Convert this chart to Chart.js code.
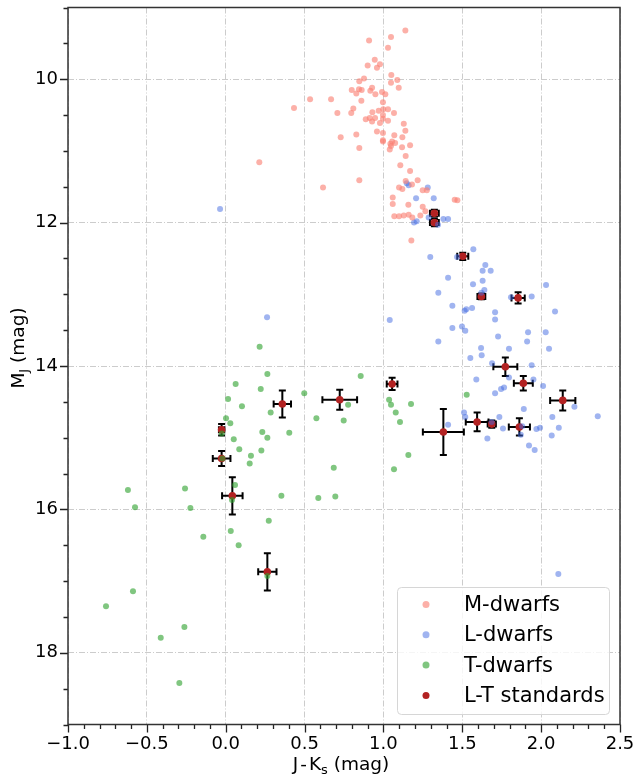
<!DOCTYPE html>
<html>
<head>
<meta charset="utf-8">
<script src="https://cdn.jsdelivr.net/npm/chart.js@4.4.0/dist/chart.umd.min.js"></script>
<style>
  html, body { margin: 0; padding: 0; background: #fff; }
</style>
</head>
<body>
<canvas id="cmd" width="634" height="779"></canvas>
<script>
// M-dwarfs (J-Ks, MJ)
const mX = [1.139, 1.048, 0.909, 1.029, 0.945, 0.978, 0.900, 0.959, 1.050, 0.877, 0.847, 1.088, 1.048, 0.928, 1.097,
  0.799, 0.845, 0.862, 0.828, 0.917, 0.991, 1.012, 0.949, 0.535, 0.668, 0.860, 0.997, 0.433, 0.809, 0.708, 0.796,
  0.930, 0.970, 0.999, 1.029, 1.067, 0.997, 0.913, 0.947, 0.888, 0.928, 0.978, 0.997, 1.029, 1.129, 1.139, 0.959,
  0.997, 0.828, 0.729, 1.069, 1.120, 0.997, 0.997, 1.055, 1.074, 1.044, 1.048, 1.169, 0.847, 1.118, 1.040, 1.141,
  0.213, 1.107, 1.169, 0.847, 0.617, 1.141, 1.217, 1.099, 1.120, 1.181, 1.249, 1.275, 1.059, 1.452, 1.469, 1.059,
  1.158, 1.249, 1.266, 1.069, 1.099, 1.129, 1.160, 1.183, 1.234, 1.177]
const mY = [9.32, 9.41, 9.46, 9.56, 9.73, 9.79, 9.81, 9.84, 9.94, 9.99, 10.03, 10.01, 10.05, 10.12, 10.12,
  10.15, 10.14, 10.15, 10.20, 10.16, 10.18, 10.21, 10.21, 10.28, 10.28, 10.30, 10.32, 10.40, 10.41, 10.47, 10.47,
  10.46, 10.44, 10.42, 10.42, 10.47, 10.50, 10.54, 10.54, 10.56, 10.59, 10.61, 10.55, 10.58, 10.62, 10.72, 10.73,
  10.75, 10.77, 10.81, 10.78, 10.81, 10.85, 10.87, 10.87, 10.89, 10.90, 10.93, 10.92, 10.96, 10.95, 10.98, 11.07,
  11.16, 11.20, 11.28, 11.41, 11.51, 11.42, 11.41, 11.51, 11.53, 11.47, 11.55, 11.55, 11.65, 11.68, 11.69, 11.74,
  11.75, 11.78, 11.84, 11.91, 11.91, 11.90, 11.89, 11.93, 11.90, 12.25]

// L-dwarfs
const lX = [-0.036, 1.148, 1.160, 1.281, 1.207, 1.319, 1.287, 1.194, 1.211, 1.346, 1.380, 1.410, 1.297, 1.467,
  1.570, 1.646, 1.629, 1.680, 1.410, 1.629, 1.568, 1.640, 1.621, 1.348, 2.031, 1.809, 1.940, 1.437, 1.562, 1.526,
  1.515, 1.708, 1.708, 2.088, 1.437, 1.498, 1.519, 1.348, 1.727, 1.917, 1.911, 2.029, 2.050, 1.619, 1.796, 1.623,
  1.551, 1.689, 1.940, 1.796, 1.951, 1.589, 2.012, 1.746, 1.765, 1.708, 2.211, 2.359, 1.890, 2.071, 2.112, 2.067,
  1.993, 1.970, 1.871, 1.880, 1.923, 1.959, 1.758, 1.735, 1.686, 1.659, 1.511, 1.519, 1.410, 0.262, 1.040, 2.109]
const lY = [11.81, 11.45, 11.48, 11.51, 11.66, 11.66, 11.93, 12.00, 11.98, 12.03, 11.95, 11.95, 12.48, 12.48,
  12.37, 12.59, 12.67, 12.67, 12.77, 12.81, 12.86, 12.94, 12.98, 12.98, 12.87, 13.04, 13.03, 13.16, 13.19, 13.21,
  13.23, 13.25, 13.35, 13.24, 13.47, 13.45, 13.51, 13.66, 13.59, 13.53, 13.66, 13.53, 13.76, 13.75, 13.76, 13.85,
  13.89, 13.96, 13.99, 14.16, 14.19, 14.19, 14.28, 14.32, 14.30, 14.38, 14.57, 14.70, 14.60, 14.71, 14.86, 14.97,
  14.86, 14.88, 14.96, 14.84, 15.11, 15.17, 14.87, 14.71, 14.78, 15.01, 14.65, 14.71, 14.82, 13.32, 13.36, 16.90]

// T-dwarfs
const tX = [0.215, 0.264, 0.063, 0.222, 0.498, 0.015, 0.103, 0.285, 0.002, 0.029, 0.232, 0.403, -0.025, 0.051,
  0.264, 0.086, 0.226, 0.160, 0.152, -0.021, 0.059, 0.040, -0.620, -0.258, -0.575, -0.224, 0.353, 0.273, 0.032,
  -0.142, 0.082, 0.264, -0.588, -0.759, -0.262, -0.412, -0.294, 0.856, 0.776, 1.036, 1.048, 1.175, 1.078, 1.105,
  0.575, 0.748, 1.158, 0.685, 1.067, 0.587, 0.695, 1.528]
const tY = [13.73, 14.11, 14.25, 14.32, 14.38, 14.46, 14.56, 14.65, 14.73, 14.80, 14.92, 14.93, 14.94, 15.02,
  15.00, 15.16, 15.18, 15.25, 15.36, 15.29, 15.66, 15.87, 15.73, 15.71, 15.97, 15.98, 15.81, 16.16, 16.30,
  16.38, 16.50, 16.93, 17.14, 17.35, 17.64, 17.79, 18.42, 14.14, 14.54, 14.47, 14.54, 14.53, 14.65, 14.78,
  14.73, 14.76, 15.24, 15.42, 15.44, 15.84, 15.82, 14.40]

// L-T standards with uncertainties
const sX = [1.323, 1.323, 1.503, 1.621, 1.854, 1.773, 1.887, 2.137, 1.380, 1.594, 1.687, 1.862, 1.055, 0.723,
  0.359, -0.026, -0.026, 0.042, 0.264]
const sY = [11.87, 12.00, 12.47, 13.03, 13.05, 14.01, 14.24, 14.48, 14.92, 14.78, 14.81, 14.85, 14.25, 14.47,
  14.53, 14.89, 15.29, 15.81, 16.87]
const sXErr = [0.028, 0.028, 0.035, 0.025, 0.042, 0.076, 0.06, 0.08, 0.13, 0.072, 0.026, 0.067, 0.034, 0.11,
  0.055, 0.017, 0.056, 0.065, 0.058]
const sYErr = [0.05, 0.05, 0.05, 0.04, 0.08, 0.13, 0.10, 0.14, 0.32, 0.13, 0.05, 0.12, 0.086, 0.14,
  0.19, 0.08, 0.105, 0.26, 0.26]

const seriesNames = ['M-dwarfs', 'L-dwarfs', 'T-dwarfs', 'L-T standards']
const seriesColors = ['rgba(250,128,114,0.62)', 'rgba(65,105,225,0.5)', 'rgba(44,160,44,0.6)', '#b22222']

const FONT = 'DejaVu Sans'

function toPoints(xs, ys){
    return xs.map((x, i) => ({x: x, y: ys[i]}))
}

function isMajor(v, step){
    return Math.abs(v / step - Math.round(v / step)) < 1e-6
}

// error bars for the standards, drawn under the red markers
const errorBars = {
    id: 'errorBars',
    beforeDatasetDraw(chart, args){
        if(args.index !== 3) return
        const ctx = chart.ctx
        const xs = chart.scales.x, ys = chart.scales.y
        const cap = 3.5
        ctx.save()
        ctx.strokeStyle = '#000'
        ctx.lineWidth = 2
        for(let i = 0; i < sX.length; i++){
            const px = xs.getPixelForValue(sX[i]), py = ys.getPixelForValue(sY[i])
            const x0 = xs.getPixelForValue(sX[i] - sXErr[i]), x1 = xs.getPixelForValue(sX[i] + sXErr[i])
            const y0 = ys.getPixelForValue(sY[i] - sYErr[i]), y1 = ys.getPixelForValue(sY[i] + sYErr[i])
            ctx.beginPath()
            ctx.moveTo(x0, py); ctx.lineTo(x1, py)
            ctx.moveTo(px, y0); ctx.lineTo(px, y1)
            ctx.moveTo(x0, py - cap); ctx.lineTo(x0, py + cap)
            ctx.moveTo(x1, py - cap); ctx.lineTo(x1, py + cap)
            ctx.moveTo(px - cap, y0); ctx.lineTo(px + cap, y0)
            ctx.moveTo(px - cap, y1); ctx.lineTo(px + cap, y1)
            ctx.stroke()
        }
        ctx.restore()
    }
}

// frame, tick marks, axis titles with subscripts, legend
const decorations = {
    id: 'decorations',
    afterDraw(chart){
        const ctx = chart.ctx
        const a = chart.chartArea
        const xs = chart.scales.x, ys = chart.scales.y
        ctx.save()

        // tick marks (outward, bottom and left only)
        ctx.strokeStyle = '#222'
        ctx.lineWidth = 1.3
        ctx.beginPath()
        xs.ticks.forEach(t => {
            const p = Math.round(xs.getPixelForValue(t.value)) + 0.5
            const len = isMajor(t.value, 0.5) ? 8 : 4.5
            ctx.moveTo(p, a.bottom); ctx.lineTo(p, a.bottom + len)
        })
        ys.ticks.forEach(t => {
            const p = Math.round(ys.getPixelForValue(t.value)) + 0.5
            const len = isMajor(t.value, 2) ? 8 : 4.5
            ctx.moveTo(a.left, p); ctx.lineTo(a.left - len, p)
        })
        ctx.stroke()

        // frame
        ctx.strokeStyle = '#333'
        ctx.lineWidth = 1.5
        ctx.strokeRect(a.left, a.top, a.right - a.left, a.bottom - a.top)

        // x title: J-Ks (mag)
        ctx.fillStyle = '#000'
        ctx.textBaseline = 'alphabetic'
        const big = '18.5px "' + FONT + '"', small = '13px "' + FONT + '"'
        ctx.font = big
        const wJ = ctx.measureText('J').width
        const wD = ctx.measureText('-').width
        const wK = ctx.measureText('K').width
        const w3 = ctx.measureText(' (mag)').width
        ctx.font = small
        const w2 = ctx.measureText('s').width
        const gap = 2
        const w1 = wJ + gap + wD + gap + wK
        let x = (a.left + a.right) / 2 - 3 - (w1 + w2 + w3) / 2
        const base = 770
        ctx.font = big
        ctx.fillText('J', x, base)
        ctx.fillText('-', x + wJ + gap, base)
        ctx.fillText('K', x + wJ + gap + wD + gap, base)
        ctx.font = small
        ctx.fillText('s', x + w1, base + 4)
        ctx.font = big
        ctx.fillText(' (mag)', x + w1 + w2, base)

        // y title: MJ (mag)
        ctx.save()
        ctx.translate(24, 348)
        ctx.rotate(-Math.PI / 2)
        ctx.font = big
        const v1 = ctx.measureText('M').width
        const v3 = ctx.measureText(' (mag)').width
        ctx.font = small
        const v2 = ctx.measureText('J').width
        x = -(v1 + v2 + v3) / 2
        ctx.font = big
        ctx.fillText('M', x, 0)
        ctx.font = small
        ctx.fillText('J', x + v1, 4)
        ctx.font = big
        ctx.fillText(' (mag)', x + v1 + v2, 0)
        ctx.restore()

        // legend box in the lower right corner
        const lx = 397.5, ly = 587.5, lw = 212, lh = 127, r = 4
        ctx.beginPath()
        ctx.moveTo(lx + r, ly)
        ctx.arcTo(lx + lw, ly, lx + lw, ly + lh, r)
        ctx.arcTo(lx + lw, ly + lh, lx, ly + lh, r)
        ctx.arcTo(lx, ly + lh, lx, ly, r)
        ctx.arcTo(lx, ly, lx + lw, ly, r)
        ctx.closePath()
        ctx.fillStyle = 'rgba(255,255,255,0.8)'
        ctx.fill()
        ctx.strokeStyle = '#d6d6d6'
        ctx.lineWidth = 1
        ctx.stroke()
        ctx.font = '21px "' + FONT + '"'
        ctx.textBaseline = 'middle'
        seriesNames.forEach((name, i) => {
            const cy = 604.5 + i * 30.3
            ctx.fillStyle = seriesColors[i]
            ctx.beginPath()
            ctx.arc(426, cy, 3.5, 0, Math.PI * 2)
            ctx.fill()
            ctx.fillStyle = '#000'
            ctx.fillText(name, 464, cy + 1)
        })
        ctx.restore()
    }
}

const gridColor = step => c => (c.tick && isMajor(c.tick.value, step)) ? '#cccccc' : 'rgba(0,0,0,0)'

const chart = new Chart(document.getElementById('cmd'), {
    type: 'scatter',
    data: {
        datasets: [
            {label: seriesNames[0], data: toPoints(mX, mY), backgroundColor: seriesColors[0], pointRadius: 3, borderWidth: 0},
            {label: seriesNames[1], data: toPoints(lX, lY), backgroundColor: seriesColors[1], pointRadius: 3, borderWidth: 0},
            {label: seriesNames[2], data: toPoints(tX, tY), backgroundColor: seriesColors[2], pointRadius: 3, borderWidth: 0},
            {label: seriesNames[3], data: toPoints(sX, sY), backgroundColor: seriesColors[3], pointRadius: 3.8, borderWidth: 0}
        ]
    },
    options: {
        responsive: false,
        animation: false,
        events: [],
        layout: {padding: {left: 0, top: 7.5, right: 14, bottom: 0}},
        plugins: {legend: {display: false}, tooltip: {enabled: false}},
        scales: {
            x: {
                type: 'linear',
                min: -1, max: 2.5,
                afterFit: s => { s.height = 54.5; s.paddingLeft = 0; s.paddingRight = 0 },
                grid: {color: gridColor(0.5), lineWidth: 1, drawTicks: false},
                border: {display: false, dash: [6, 2, 1, 2]},
                ticks: {
                    stepSize: 0.1, autoSkip: false, maxRotation: 0, padding: 9,
                    color: '#000', font: {family: FONT, size: 18},
                    callback: v => isMajor(v, 0.5) ? v.toFixed(1).replace('-', '\u2212') : ''
                }
            },
            y: {
                type: 'linear',
                reverse: true,
                min: 9, max: 19,
                afterFit: s => { s.width = 68; s.paddingTop = 0; s.paddingBottom = 0 },
                grid: {color: gridColor(2), lineWidth: 1, drawTicks: false},
                border: {display: false, dash: [6, 2, 1, 2]},
                ticks: {
                    stepSize: 0.5, autoSkip: false, padding: 10,
                    color: '#000', font: {family: FONT, size: 18},
                    callback: v => isMajor(v, 2) ? String(Math.round(v)) : ''
                }
            }
        }
    },
    plugins: [errorBars, decorations]
})
</script>
</body>
</html>
